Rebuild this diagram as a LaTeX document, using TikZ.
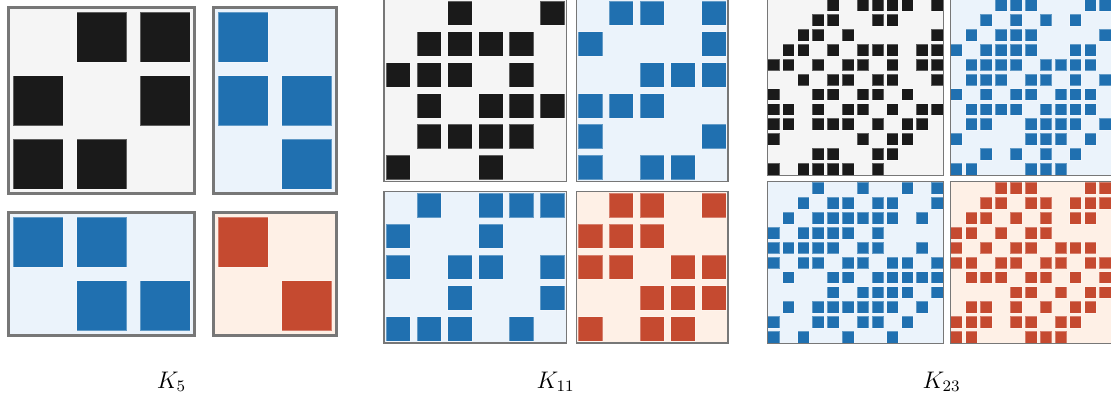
\documentclass[tikz,border=0pt]{standalone}

\definecolor{framegray}{HTML}{777777}
\definecolor{blackbg}{HTML}{F5F5F5}
\definecolor{blackfg}{HTML}{1A1A1A}
\definecolor{bluebg}{HTML}{EBF3FB}
\definecolor{bluefg}{HTML}{2070B0}
\definecolor{redbg}{HTML}{FEF0E6}
\definecolor{redfg}{HTML}{C54A30}

\tikzset{
  frame5/.style={draw=framegray, line width=1.35pt},
  frame11/.style={draw=framegray, line width=0.75pt},
  frame23/.style={draw=framegray, line width=0.55pt},
  blackcell/.style={fill=blackfg, draw=white, draw opacity=0.3, line width=0.3pt},
  bluecell/.style={fill=bluefg, draw=white, draw opacity=0.3, line width=0.3pt},
  redcell/.style={fill=redfg, draw=white, draw opacity=0.3, line width=0.3pt},
  blackback/.style={fill=blackbg},
  blueback/.style={fill=bluebg},
  redback/.style={fill=redbg},
  label/.style={anchor=base, font=\large}
}

% x, y, pitch, cols, rows, colour, frame, inset, rows of filled columns
\newcommand{\mblock}[9]{%
  \begin{scope}[shift={(#1,#2)}]
    \path[#6back] (#8,#8) rectangle ({#4*#3-#8},{#5*#3-#8});
    \foreach \rowlist [count=\rw] in {#9}
      \foreach \cl in \rowlist
        \path[#6cell] ({(\cl-0.895)*#3},{(\rw-0.895)*#3}) rectangle +({0.79*#3},{0.79*#3});
    \draw[#7] (#8,#8) rectangle ({#4*#3-#8},{#5*#3-#8});
  \end{scope}}

\begin{document}
\begin{tikzpicture}[x=0.5pt, y=-0.5pt]
        \useasboundingbox (0,0) rectangle (1111,400);
        \clip (0,0) rectangle (1111,400);

        % K5
        \mblock{6.67}{5.6}{63.33}{3}{3}{black}{frame5}{2}
          {{2,3},{1,3},{1,2}}
        \mblock{211.67}{5.6}{63.33}{2}{3}{blue}{frame5}{2}
          {{1},{1,2},{2}}
        \mblock{6.67}{210.6}{63.33}{3}{2}{blue}{frame5}{2}
          {{1,2},{2,3}}
        \mblock{211.67}{210.6}{63.33}{2}{2}{red}{frame5}{2}
          {{1},{2}}

        % K11
        \mblock{382.7}{-2.3}{30.86}{6}{6}{black}{frame11}{1.35}
          {{3,6},{2,3,4,5},{1,2,3,5},{2,4,5,6},{2,3,4,5},{1,4}}
        \mblock{574.96}{-2.3}{30.86}{5}{6}{blue}{frame11}{1.35}
          {{2,3,5},{1,5},{3,4,5},{1,2,3},{1,5},{1,3,4}}
        \mblock{382.7}{189.96}{30.86}{6}{5}{blue}{frame11}{1.35}
          {{2,4,5,6},{1,4},{1,3,4,6},{3,6},{1,2,3,5}}
        \mblock{574.96}{189.96}{30.86}{5}{5}{red}{frame11}{1.35}
          {{2,3,5},{1,2,3},{1,2,4,5},{3,4,5},{1,3,4}}

        % K23
        \mblock{766.2}{-2.05}{14.87}{12}{12}{black}{frame23}{1.05}
          {{5,7,8,9,10,12},{4,5,8,9},{3,4,6,12},{2,3,5,7,8,9,11,12},
           {1,2,4,6,7,9,11,12},{3,5,6,8,9,12},{1,4,5,7,8,10},
           {1,2,4,6,7,9,11,12},{1,2,4,5,6,8,10,11},{1,7,9,10},
           {4,5,8,9},{1,3,4,5,6,8}}
        \mblock{949.14}{-2.05}{14.87}{11}{12}{blue}{frame23}{1.05}
          {{4,5,6,10,11},{3,5,7,9},{2,4,5,6,11},{1,3,4,5,6,9,10},
           {2,3,4,5,7,8,9,10},{2,3,4,6,7,9,11},{1,3,5,6,8,9,10},
           {2,3,4,5,7,8,9,10},{2,3,6,7,8,9,11},{1,6,7,8,10},
           {3,5,7,9},{1,2,6,7,8}}
        \mblock{766.2}{180.89}{14.87}{12}{11}{blue}{frame23}{1.05}
          {{4,7,10,12},{3,5,6,8,9,12},{2,4,5,6,7,8,9,11},{1,3,4,5,6,8},
           {1,2,3,4,5,7,8,11},{1,3,4,6,7,9,10,12},{2,5,6,8,9,10,11,12},
           {5,7,8,9,10,12},{2,4,5,6,7,8,9,11},{1,4,5,7,8,10},{1,3,6,9}}
        \mblock{949.14}{180.89}{14.87}{11}{11}{red}{frame23}{1.05}
          {{4,5,6,10,11},{3,4,6,7,9,10,11},{2,3,5,7,9,10},{1,2,4,6,7},
           {1,3,5,6,8,9,10},{1,2,4,5,7,8,10,11},{2,3,4,6,7,9,11},
           {5,6,8,10,11},{2,3,5,7,9,10},{1,2,3,5,6,8,9},{1,2,6,7,8}}

        \node[label] (k5) at (171.5,388) {$K_5$};
        \node[label] (k11) at (555.5,388) {$K_{11}$};
        \node[label] (k23) at (941.5,388) {$K_{23}$};
\end{tikzpicture}
\end{document}
